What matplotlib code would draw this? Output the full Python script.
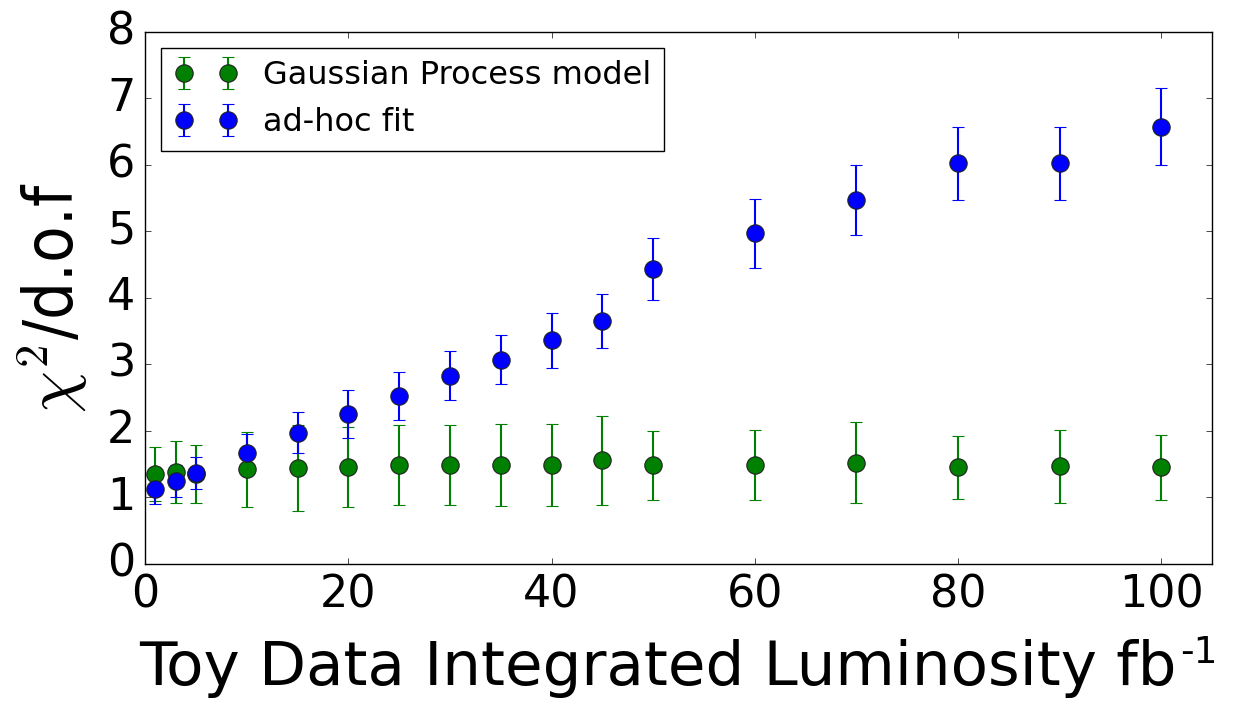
import numpy as np
import matplotlib
matplotlib.use("Agg")
from matplotlib import pyplot as plt

# integrated luminosity of the toy datasets (fb^-1)
lumi = [1, 3, 5, 10, 15, 20, 25, 30, 35, 40, 45, 50, 60, 70, 80, 90, 100]

# chi2/dof for the Gaussian Process background model
gp_chi2 = [1.35, 1.38, 1.35, 1.42, 1.44, 1.46, 1.49, 1.49, 1.49, 1.49, 1.56, 1.48, 1.49, 1.52, 1.45, 1.47, 1.45]
gp_err = [0.40, 0.47, 0.43, 0.57, 0.65, 0.60, 0.60, 0.60, 0.62, 0.62, 0.67, 0.52, 0.53, 0.61, 0.48, 0.55, 0.49]

# chi2/dof for the ad-hoc parametric fit
fit_chi2 = [1.12, 1.25, 1.36, 1.66, 1.97, 2.25, 2.52, 2.83, 3.07, 3.36, 3.65, 4.43, 4.97, 5.47, 6.02, 6.02, 6.57]
fit_err = [0.22, 0.24, 0.24, 0.30, 0.31, 0.36, 0.36, 0.37, 0.37, 0.41, 0.41, 0.47, 0.52, 0.53, 0.55, 0.55, 0.58]

plt.style.use('classic')
fig = plt.figure(figsize=(12.52, 7.04), dpi=100, facecolor='white')
ax = fig.add_axes([0.116, 0.199, 0.852, 0.756])

ax.errorbar(lumi, gp_chi2, yerr=gp_err, fmt='o', color='green', ecolor='green',
            markersize=12.5, markeredgecolor='#202020', markeredgewidth=0.8,
            elinewidth=1.5, capsize=4, label='Gaussian Process model')
ax.errorbar(lumi, fit_chi2, yerr=fit_err, fmt='o', color='blue', ecolor='blue',
            markersize=12.5, markeredgecolor='#202020', markeredgewidth=0.8,
            elinewidth=1.5, capsize=4, label='ad-hoc fit')

ax.set_xlim(0, 105)
ax.set_ylim(0, 8)
ax.set_xticks([0, 20, 40, 60, 80, 100])
ax.set_yticks(range(9))
ax.tick_params(labelsize=32, pad=7)

xl = ax.set_xlabel('Toy Data Integrated Luminosity fb', fontsize=44, labelpad=16)
xl.set_x(0.481)  # leave room for the exponent so the whole label sits centred
ax.set_ylabel(r'$\chi^2$/d.o.f', fontsize=48, fontstretch='condensed')
ax.yaxis.set_label_coords(-0.052, 0.5)

ax.legend(loc='upper left', numpoints=2, fontsize=23, fancybox=False,
          borderaxespad=0.5, handletextpad=0.8, handlelength=2.0)

# superscript unit exponent placed right after the x label
fig.canvas.draw()
bb = xl.get_window_extent(fig.canvas.get_renderer())
fig.text((bb.x1 + 3) / fig.bbox.width, (bb.y1 + 4) / fig.bbox.height, '-1',
         fontsize=27, ha='left', va='top')

fig.savefig('out.png', dpi=100, facecolor='white')
